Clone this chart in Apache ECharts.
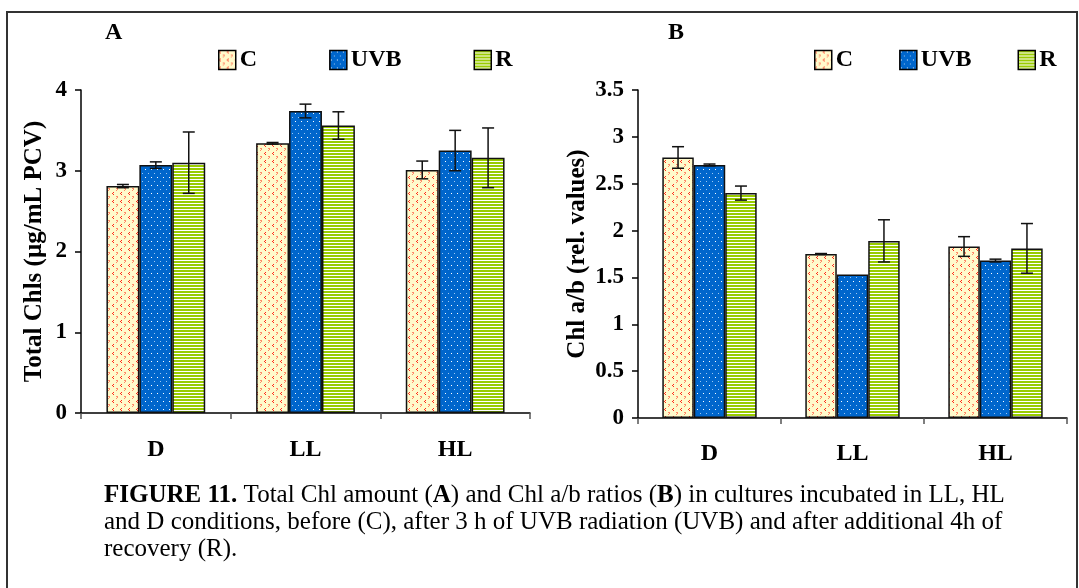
<!DOCTYPE html>
<html><head><meta charset="utf-8">
<script src="https://cdn.jsdelivr.net/npm/echarts/dist/echarts.min.js"></script>
<style>html,body{margin:0;padding:0;background:#fff}#c{width:1079px;height:588px}</style>
</head><body><div id="c"></div>
<script>
// ---- data ----
const categories = ['D', 'LL', 'HL'];
const seriesNames = ['C', 'UVB', 'R'];
// Panel A: Total Chls (µg/mL PCV)
const totalC = [2.81, 3.34, 3.01];
const totalUVB = [3.07, 3.74, 3.25];
const totalR = [3.10, 3.56, 3.16];
const totalErrC = [0.02, 0.01, 0.11];
const totalErrUVB = [0.04, 0.085, 0.25];
const totalErrR = [0.38, 0.17, 0.37];
// Panel B: Chl a/b (rel. values)
const ratioC = [2.78, 1.75, 1.83];
const ratioUVB = [2.70, 1.53, 1.68];
const ratioR = [2.40, 1.89, 1.81];
const ratioErrC = [0.115, 0.005, 0.105];
const ratioErrUVB = [0.01, 0, 0.015];
const ratioErrR = [0.075, 0.225, 0.265];
const axisA = { min: 0, max: 4, interval: 1 };
const axisB = { min: 0, max: 3.5, interval: 0.5 };
const captionLines = [
  '{b|FIGURE 11.} Total Chl amount ({b|A}) and Chl a/b ratios ({b|B}) in cultures incubated in LL, HL',
  'and D conditions, before (C), after 3 h of UVB radiation (UVB) and after additional 4h of',
  'recovery (R).'
];

// ---- patterns ----
function pattern(kind) {
  const c = document.createElement('canvas');
  const ctx = c.getContext('2d');
  if (kind === 'C') {
    c.width = 8; c.height = 8;
    ctx.fillStyle = '#FFFACB'; ctx.fillRect(0, 0, 8, 8);
    ctx.fillStyle = '#FF2A1A';
    [[1,0],[0,1],[1,2]].forEach(p => ctx.fillRect(p[0], p[1], 1, 1));
    ctx.fillStyle = '#FF8A6A';
    [[4,4],[5,5],[4,6],[5,4]].forEach(p => ctx.fillRect(p[0], p[1], 1, 1));
  } else if (kind === 'UVB') {
    c.width = 6; c.height = 8;
    ctx.fillStyle = '#0066CC'; ctx.fillRect(0, 0, 6, 8);
    ctx.fillStyle = '#FFFFFF'; ctx.fillRect(1, 1, 1, 1);
    ctx.fillStyle = '#9CC8F2'; ctx.fillRect(4, 5, 1, 1);
  } else {
    c.width = 4; c.height = 3;
    ctx.fillStyle = '#99CC00'; ctx.fillRect(0, 0, 4, 3);
    ctx.fillStyle = '#FFFFFF'; ctx.fillRect(0, 2, 4, 1);
  }
  return { image: c, repeat: 'repeat' };
}
const fills = { C: pattern('C'), UVB: pattern('UVB'), R: pattern('R') };

const FONT = '"Liberation Serif", "Times New Roman", serif';
const GAP = 0.34;

function barSeries(name, gi, data) {
  return {
    type: 'bar', name, xAxisIndex: gi, yAxisIndex: gi, data,
    barGap: '0%', barCategoryGap: (GAP * 100) + '%',
    itemStyle: { color: fills[name], borderColor: '#111', borderWidth: 1.5 },
    emphasis: { disabled: true }
  };
}
function errSeries(name, k, gi, vals, errs) {
  return {
    type: 'custom', name: 'err' + name + gi, xAxisIndex: gi, yAxisIndex: gi, z: 10, silent: true,
    encode: { x: 0, y: 1 },
    data: vals.map((v, i) => [i, v, errs[i]]),
    renderItem(params, api) {
      const i = api.value(0), v = api.value(1), e = api.value(2);
      if (!e) return null;
      const band = api.size([1, 0])[0];
      const bw = band * (1 - GAP) / 3;
      const cx = api.coord([i, v])[0] + (k - 1) * bw;
      const yt = api.coord([i, v + e])[1], yb = api.coord([i, v - e])[1];
      const cap = 6, st = { stroke: '#111', lineWidth: 1.5 };
      return { type: 'group', children: [
        { type: 'line', shape: { x1: cx, y1: yt, x2: cx, y2: yb }, style: st },
        { type: 'line', shape: { x1: cx - cap, y1: yt, x2: cx + cap, y2: yt }, style: st },
        { type: 'line', shape: { x1: cx - cap, y1: yb, x2: cx + cap, y2: yb }, style: st }
      ] };
    }
  };
}

function xAx(gi, margin) {
  return {
    type: 'category', gridIndex: gi, data: categories,
    axisLine: { lineStyle: { color: '#000', width: 1.5 } },
    axisTick: { show: true, length: 6, lineStyle: { color: '#555', width: 1.5 } },
    axisLabel: { color: '#000', fontFamily: FONT, fontWeight: 'bold', fontSize: 24, margin },
    splitLine: { show: false }
  };
}
function yAx(gi, ax, name, gap) {
  return {
    type: 'value', gridIndex: gi, min: ax.min, max: ax.max, interval: ax.interval,
    name, nameLocation: 'middle', nameRotate: 90, nameGap: gap,
    nameTextStyle: { color: '#000', fontFamily: FONT, fontWeight: 'bold', fontSize: 25 },
    axisLine: { show: true, lineStyle: { color: '#000', width: 1.5 } },
    axisTick: { show: true, length: 6, lineStyle: { color: '#000', width: 1.5 } },
    axisLabel: { color: '#000', fontFamily: FONT, fontWeight: 'bold', fontSize: 23, margin: 14 },
    splitLine: { show: false }
  };
}
function legend(left, gap) {
  return {
    data: seriesNames, left, top: 43, itemWidth: 17, itemHeight: 19, itemGap: gap,
    icon: 'rect', selectedMode: false,
    itemStyle: { borderColor: '#000', borderWidth: 1.5 },
    textStyle: { color: '#000', fontFamily: FONT, fontWeight: 'bold', fontSize: 24, padding: [0, 0, 0, -1] }
  };
}

const graphics = [
  { type: 'rect', shape: { x: 7, y: 12, width: 1070, height: 600 }, style: { fill: 'none', stroke: '#333', lineWidth: 2 }, silent: true },
  { type: 'text', left: 105, top: 21, style: { text: 'A', font: 'bold 24px ' + FONT, fill: '#000' } },
  { type: 'text', left: 668, top: 21, style: { text: 'B', font: 'bold 24px ' + FONT, fill: '#000' } }
];
captionLines.forEach((t, i) => {
  graphics.push({ type: 'text', left: 104, top: 483 + i * 27,
    style: { text: t, font: '25px ' + FONT, fill: '#000', rich: { b: { fontWeight: 'bold', fontSize: 25, fontFamily: FONT } } } });
});

const chart = echarts.init(document.getElementById('c'), null, { renderer: 'canvas' });
chart.setOption({
  animation: false,
  backgroundColor: '#fff',
  grid: [
    { left: 81, top: 90, right: 549, bottom: 175 },
    { left: 638, top: 90, right: 12, bottom: 170 }
  ],
  legend: [legend(213, 72), legend(809, 46)],
  xAxis: [xAx(0, 25), xAx(1, 24)],
  yAxis: [yAx(0, axisA, 'Total Chls (µg/mL PCV)', 34), yAx(1, axisB, 'Chl a/b (rel. values)', 48)],
  series: [
    barSeries('C', 0, totalC), barSeries('UVB', 0, totalUVB), barSeries('R', 0, totalR),
    barSeries('C', 1, ratioC), barSeries('UVB', 1, ratioUVB), barSeries('R', 1, ratioR),
    errSeries('C', 0, 0, totalC, totalErrC), errSeries('UVB', 1, 0, totalUVB, totalErrUVB), errSeries('R', 2, 0, totalR, totalErrR),
    errSeries('C', 0, 1, ratioC, ratioErrC), errSeries('UVB', 1, 1, ratioUVB, ratioErrUVB), errSeries('R', 2, 1, ratioR, ratioErrR)
  ],
  graphic: graphics
});
</script></body></html>
